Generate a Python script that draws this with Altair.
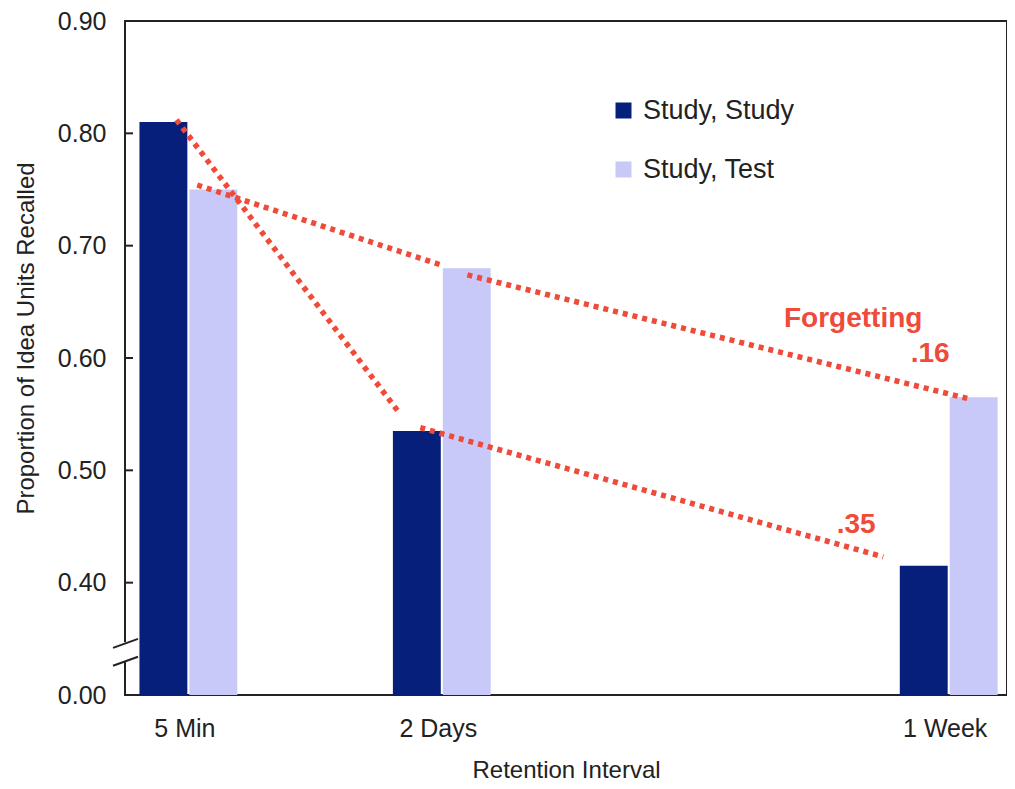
import altair as alt
import pandas as pd

# ---- data ----
intervals = ["5 Min", "2 Days", "1 Week"]
interval_pos = [0, 1, 3]
series = ["Study, Study", "Study, Test"]
study_study = [0.81, 0.535, 0.415]
study_test = [0.75, 0.68, 0.565]

y_tick_values = [0.3, 0.4, 0.5, 0.6, 0.7, 0.8, 0.9]
inner_ticks = [0.4, 0.5, 0.6, 0.7, 0.8]
axis_break = [0.330, 0.347]

# forgetting lines (annotation, in data units)
line_seg = ["ss1", "ss1", "ss2", "ss2", "st1", "st1", "st2", "st2"]
line_x = [-0.047, 0.836, 0.915, 2.742, 0.035, 0.994, 1.101, 3.073]
line_y = [0.812, 0.550, 0.538, 0.423, 0.754, 0.683, 0.674, 0.564]

notes = ["Forgetting", ".16", ".35"]
note_x = [2.623, 2.927, 2.635]
note_y = [0.628, 0.596, 0.444]

FONT = "Liberation Sans"
DARK = "#061F7B"
LIGHT = "#C9C9F9"
RED = "#EE4B3B"

rows = []
for name, p, a, b in zip(intervals, interval_pos, study_study, study_test):
    rows.append({"interval": name, "pos": p, "series": series[0], "value": a})
    rows.append({"interval": name, "pos": p, "series": series[1], "value": b})
bars_df = pd.DataFrame(rows)

xscale = alt.Scale(domain=[-0.25, 3.23], nice=False, zero=False)
yscale = alt.Scale(domain=[0.3, 0.9], nice=False, zero=False)

label_expr_x = " : ".join(
    [f"datum.value == {p} ? '{n}'" for p, n in zip(interval_pos[:-1], intervals[:-1])]
) + f" : '{intervals[-1]}'"

bars = alt.Chart(bars_df).transform_calculate(
    x0=f"datum.pos + (datum.series == '{series[0]}' ? -0.193 : 0.004)"
).transform_calculate(
    x1="datum.x0 + 0.189"
).mark_rect().encode(
    x=alt.X("x0:Q", scale=xscale,
            axis=alt.Axis(values=interval_pos, labelExpr=label_expr_x, ticks=False,
                          domain=False, grid=False, labelFontSize=25, labelFont=FONT,
                          labelColor="#222", labelPadding=21, labelOffset=-4,
                          title="Retention Interval", titleFontSize=24, titleFont=FONT,
                          titleFontWeight="normal", titleColor="#222", titlePadding=17)),
    x2="x1:Q",
    y=alt.Y("value:Q", scale=yscale,
            axis=alt.Axis(values=y_tick_values,
                          labelExpr="datum.value < 0.35 ? '0.00' : format(datum.value, '.2f')",
                          ticks=False, domain=False, grid=False, labelFontSize=25,
                          labelFont=FONT, labelColor="#222", labelPadding=19,
                          title="Proportion of Idea Units Recalled", titleFontSize=24,
                          titleFont=FONT, titleFontWeight="normal", titleColor="#222",
                          titleX=-99, titleY=317, titleAngle=-90, titleAlign="center",
                          titleBaseline="middle")),
    y2=alt.Y2(datum=0.3),
    color=alt.Color("series:N",
                    scale=alt.Scale(domain=series, range=[DARK, LIGHT]),
                    legend=alt.Legend(title=None, orient="none", legendX=485, legendY=76,
                                      symbolType="square", symbolSize=256,
                                      symbolStrokeWidth=0, symbolOpacity=1,
                                      labelFontSize=27, labelFont=FONT, labelColor="#222",
                                      labelOffset=6, rowPadding=31)),
)

lines_df = pd.DataFrame({"seg": line_seg, "x": line_x, "y": line_y})
lines = alt.Chart(lines_df).mark_line(
    color=RED, strokeWidth=5.5, strokeDash=[5, 5], strokeCap="butt"
).encode(
    x=alt.X("x:Q", scale=xscale),
    y=alt.Y("y:Q", scale=yscale),
    detail="seg:N",
)

notes_df = pd.DataFrame({"t": notes, "x": note_x, "y": note_y})
texts = alt.Chart(notes_df).mark_text(
    font=FONT, fontSize=28, fontWeight="bold", color=RED, align="center",
    baseline="alphabetic"
).encode(
    x=alt.X("x:Q", scale=xscale),
    y=alt.Y("y:Q", scale=yscale),
    text="t:N",
)

ticks_df = pd.DataFrame({"v": inner_ticks})
ticks = alt.Chart(ticks_df).mark_rule(color="#222", strokeWidth=2).encode(
    x=alt.value(0), x2=alt.value(8),
    y=alt.Y("v:Q", scale=yscale),
)

break_df = pd.DataFrame({"lo": [axis_break[0]], "hi": [axis_break[1]]})
cover = alt.Chart(break_df).mark_rule(color="white", strokeWidth=5).encode(
    x=alt.value(0),
    y=alt.Y("lo:Q", scale=yscale),
    y2="hi:Q",
)
slash_df = pd.DataFrame({"a": [axis_break[1] - 0.005, axis_break[0] - 0.004],
                         "b": [axis_break[1] + 0.003, axis_break[0] + 0.004]})
slashes = alt.Chart(slash_df).mark_rule(color="#222", strokeWidth=2).encode(
    x=alt.value(-12), x2=alt.value(13),
    y=alt.Y("a:Q", scale=yscale),
    y2="b:Q",
)

chart = alt.layer(bars, lines, texts, ticks, cover, slashes).properties(
    width=882, height=674,
    autosize=alt.AutoSizeParams(type="none"),
    padding={"left": 117, "top": 13, "right": 0, "bottom": 86},
    background="white",
).configure_view(stroke="#222", strokeWidth=2)

chart.save("out.html", embed_options={"renderer": "svg", "actions": False})
